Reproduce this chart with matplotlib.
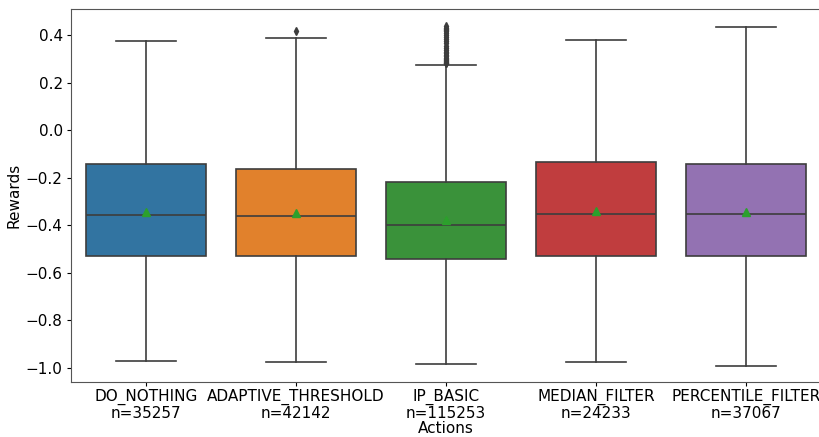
import numpy as np
import matplotlib
matplotlib.use("Agg")
from matplotlib import pyplot as plt

# Box statistics per action (rewards)
actions = ["DO_NOTHING", "ADAPTIVE_THRESHOLD", "IP_BASIC", "MEDIAN_FILTER", "PERCENTILE_FILTER"]
counts = [35257, 42142, 115253, 24233, 37067]
whislo = [-0.971, -0.975, -0.984, -0.975, -0.992]
q1 = [-0.530, -0.530, -0.542, -0.530, -0.530]
med = [-0.357, -0.361, -0.399, -0.353, -0.353]
q3 = [-0.143, -0.164, -0.219, -0.135, -0.143]
whishi = [0.374, 0.387, 0.273, 0.378, 0.433]
means = [-0.345, -0.349, -0.380, -0.340, -0.345]
fliers = [
    [],
    [0.416],
    [0.280, 0.284, 0.288, 0.292, 0.296, 0.300, 0.305, 0.310, 0.316, 0.322,
     0.330, 0.338, 0.346, 0.355, 0.364, 0.373, 0.382, 0.391, 0.400, 0.408,
     0.415, 0.421, 0.426, 0.431, 0.436],
    [],
    [],
]

palette = ["#3274a1", "#e1812c", "#3a923a", "#c03d3e", "#9372b2"]
line_col = "#3d3d3d"

stats = []
for i in range(len(actions)):
    stats.append(dict(whislo=whislo[i], q1=q1[i], med=med[i], q3=q3[i],
                      whishi=whishi[i], mean=means[i], fliers=fliers[i]))

fig = plt.figure(figsize=(8.19, 4.37), dpi=100)
ax = fig.add_axes([71/819, 1 - 382/437, 750/819, 373/437])

bp = ax.bxp(stats, positions=np.arange(len(actions)), widths=0.8,
            showmeans=True, patch_artist=True,
            boxprops=dict(edgecolor=line_col, linewidth=1.2),
            whiskerprops=dict(color=line_col, linewidth=1.2),
            capprops=dict(color=line_col, linewidth=1.2),
            medianprops=dict(color=line_col, linewidth=1.2),
            meanprops=dict(marker="^", markerfacecolor="#2ca02c",
                           markeredgecolor="#2ca02c", markersize=6),
            flierprops=dict(marker="d", markerfacecolor=line_col,
                            markeredgecolor=line_col, markersize=4))
for patch, c in zip(bp["boxes"], palette):
    patch.set_facecolor(c)

ax.set_xlim(-0.5, 4.5)
ax.set_ylim(-1.059, 0.509)
ax.set_xticks(np.arange(len(actions)))
ax.set_xticklabels([f"{a}\nn={n}" for a, n in zip(actions, counts)], fontsize=11,
                   linespacing=1.1)
ax.set_yticks([-1.0, -0.8, -0.6, -0.4, -0.2, 0.0, 0.2, 0.4])
ax.tick_params(axis="y", labelsize=11, length=3, pad=3)
ax.tick_params(axis="x", length=3, pad=2)
ax.set_xlabel("Actions", fontsize=11, labelpad=0)
ax.set_ylabel("Rewards", fontsize=11, labelpad=3)
for s in ax.spines.values():
    s.set_color("#555555")

fig.savefig("out.png", dpi=100)
